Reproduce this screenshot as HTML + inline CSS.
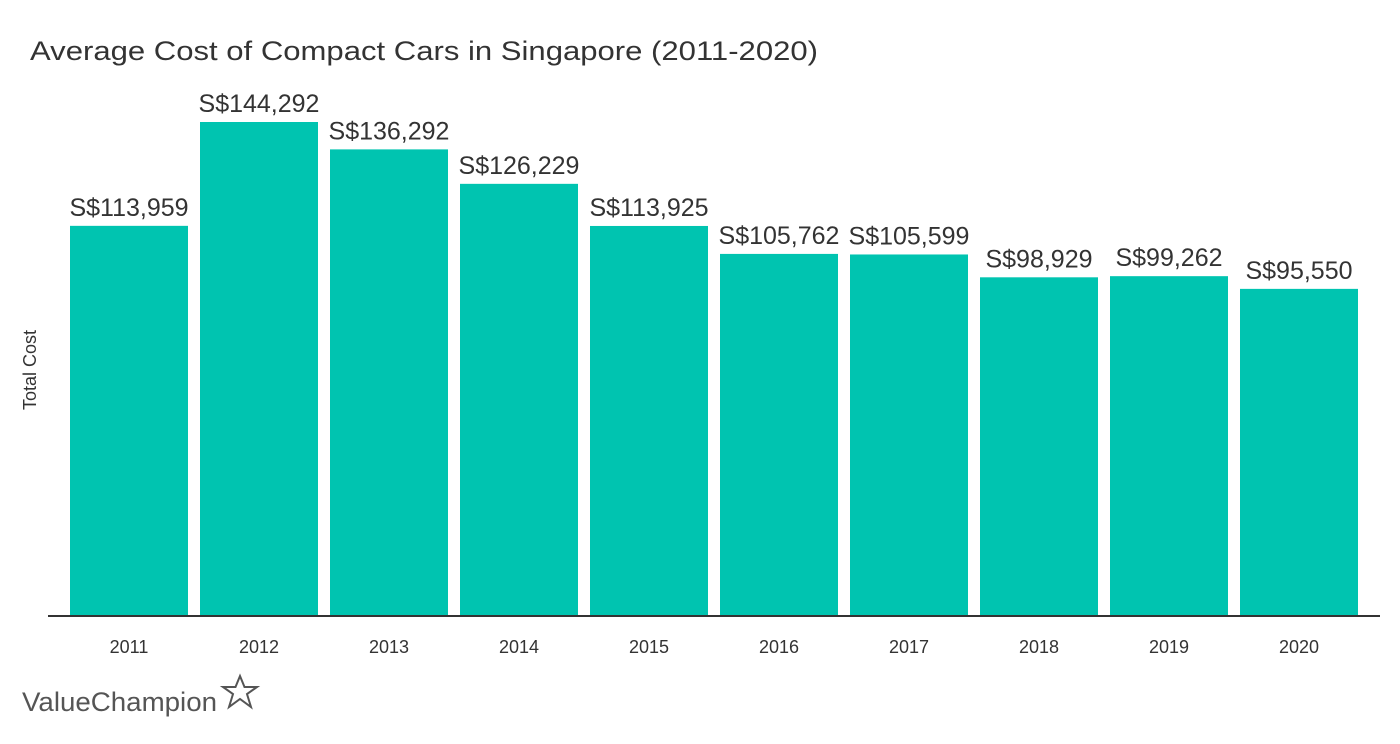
<!DOCTYPE html>
<html><head><meta charset="utf-8"><style>
body{margin:0;background:#fff;font-family:"Liberation Sans",sans-serif}
svg{display:block}
</style></head><body>
<svg width="1400" height="744" viewBox="0 0 1400 744">
<text x="30" y="60" font-size="27" fill="#333" textLength="788" lengthAdjust="spacingAndGlyphs">Average Cost of Compact Cars in Singapore (2011-2020)</text>
<text transform="translate(36,370) rotate(-90)" text-anchor="middle" font-size="18" fill="#333">Total Cost</text>
<g id="bars"></g>
<line x1="48" y1="616" x2="1380" y2="616" stroke="#333" stroke-width="2"/>
<text x="22" y="711" font-size="27" fill="#555" textLength="195" lengthAdjust="spacingAndGlyphs">ValueChampion</text>
<polygon points="240,676 244.5,687 257,687 247,694 251,707 240,699 229,707 233,694 223,687 235.5,687" fill="none" stroke="#555" stroke-width="2"/>
</svg>
<script>
const categories=["2011","2012","2013","2014","2015","2016","2017","2018","2019","2020"];
const values=[113959,144292,136292,126229,113925,105762,105599,98929,99262,95550];
const valueLabels=["S$113,959","S$144,292","S$136,292","S$126,229","S$113,925","S$105,762","S$105,599","S$98,929","S$99,262","S$95,550"];
const base=616, scale=(616-122)/144292;
function xPos(i){return 70+130*i;}
function yPos(v){return base-v*scale;}
const g=document.getElementById('bars');
const NS="http://www.w3.org/2000/svg";
categories.forEach((c,i)=>{
  const r=document.createElementNS(NS,'rect');
  r.setAttribute('x',xPos(i));r.setAttribute('y',yPos(values[i]));
  r.setAttribute('width',118);r.setAttribute('height',base-yPos(values[i]));
  r.setAttribute('fill','#00c4b0');
  
  
  g.appendChild(r);
  const t=document.createElementNS(NS,'text');
  t.setAttribute('x',xPos(i)+59);t.setAttribute('y',yPos(values[i])-10);
  t.setAttribute('text-anchor','middle');t.setAttribute('font-size','25');t.setAttribute('fill','#333');
  t.textContent=valueLabels[i];
  
  
  g.appendChild(t);
  const x=document.createElementNS(NS,'text');
  x.setAttribute('x',xPos(i)+59);x.setAttribute('y',653);
  x.setAttribute('text-anchor','middle');x.setAttribute('font-size','18');x.setAttribute('fill','#333');
  x.textContent=c;
  
  
  g.appendChild(x);
});
</script>
</body></html>
